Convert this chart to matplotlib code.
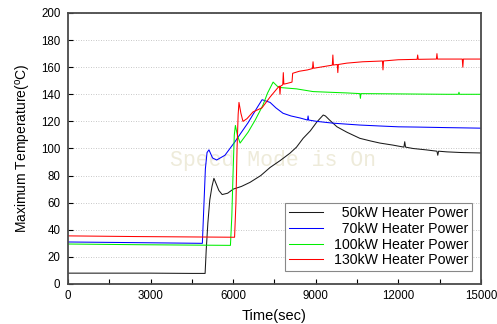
import matplotlib
matplotlib.use("Agg")
import matplotlib.pyplot as plt
from matplotlib.ticker import MultipleLocator

plt.rcParams['font.family'] = ['Liberation Sans', 'DejaVu Sans']

# ---------------- data ----------------
t50 = [0, 1500, 3000, 4500, 4980, 5020, 5080, 5150, 5230, 5300, 5380, 5480, 5600, 5800,
       6000, 6300, 6610, 7000, 7340, 7700, 8060, 8300, 8540, 8800, 9040, 9270, 9350, 9500,
       9770, 10130, 10600, 11000, 11330, 11800, 12200, 12230, 12260, 12530, 13000, 13400,
       13430, 13460, 13765, 14300, 15000]
T50 = [8, 8, 8, 7.8, 7.8, 25, 45, 62, 72, 78, 74, 69, 66, 67,
       70, 72, 75, 80, 86, 91, 96.5, 101, 107.5, 113, 119.6, 124.7, 124, 121,
       116, 112, 107.5, 105.5, 104, 102.5, 101, 105, 101, 100, 99, 98,
       95, 98, 97.5, 97, 96.7]

t70 = [0, 2500, 4880, 4930, 4990, 5050, 5120, 5250, 5400, 5700, 6065, 6300, 6540, 6865,
       7050, 7340, 7550, 7810, 8100, 8430, 8700, 8720, 8740, 9040, 9620, 10100, 10600,
       11330, 12000, 12700, 13765, 14400, 15000]
T70 = [31, 30.5, 30, 55, 85, 97, 99, 93, 91.5, 95, 105, 112, 119, 130,
       136, 134, 130, 126, 124, 122.5, 121, 124, 121, 120, 118.7, 118, 117.3,
       116.6, 116, 115.8, 115.4, 115.2, 115]

t100 = [0, 2500, 5900, 5950, 6000, 6040, 6080, 6150, 6250, 6540, 6800, 7080, 7250, 7450,
        7600, 7700, 8000, 8300, 8900, 9500, 10130, 10600, 10620, 10640, 11330, 12500,
        13765, 14180, 14200, 14220, 15000]
T100 = [29.5, 29, 28.5, 50, 85, 110, 117, 110, 104, 112, 121, 132, 141, 149,
        146, 145, 144.5, 144, 142, 141.5, 141, 140.5, 137, 140.5, 140.4, 140.2,
        140, 140, 141.5, 140, 140]

t130 = [0, 2500, 6050, 6100, 6140, 6180, 6210, 6280, 6356, 6500, 6720, 7046, 7340, 7627,
        7680, 7700, 7720, 7800, 7820, 7840, 7950, 8136, 8160, 8400, 8700, 8880, 8900, 8920,
        9300, 9600, 9620, 9640, 9780, 9800, 9820, 10130, 10700, 11330, 11420, 11440, 11460,
        12000, 12680, 12700, 12720, 13380, 13400, 13420, 13765, 14320, 14340, 14360, 15000]
T130 = [35.5, 35, 34.5, 60, 100, 125, 134, 126, 120, 122, 127, 130, 138, 145,
        146, 140, 146, 147, 156, 147.5, 148, 149, 155.5, 157, 158, 159, 164, 159.2,
        160.5, 161.5, 169, 161.6, 162, 156, 162, 163, 164, 164.5, 164.6, 158, 164.6,
        165.5, 165.8, 169, 165.8, 166, 170, 166, 166, 166, 160, 166, 166]

labels = ['  50kW Heater Power', '  70kW Heater Power',
          '100kW Heater Power', '130kW Heater Power']
colors = ['#1a1a1a', '#0000ff', '#00ee00', '#ff0000']

# ---------------- figure ----------------
fig = plt.figure(figsize=(4.97, 3.24), dpi=100)
ax = fig.add_axes([0.1368, 0.1235, 0.831, 0.8364])

ax.text(7445, 91.5, 'Speed Mode is On', family='Liberation Mono', fontsize=15.5,
        color='#eeebda', ha='center', va='center', zorder=0.5)

for t, T, lab, col in zip([t50, t70, t100, t130], [T50, T70, T100, T130], labels, colors):
    ax.plot(t, T, color=col, lw=0.75, label=lab, zorder=2)

ax.set_xlim(0, 15000)
ax.set_ylim(0, 200)
ax.xaxis.set_major_locator(MultipleLocator(3000))
ax.xaxis.set_minor_locator(MultipleLocator(1500))
ax.yaxis.set_major_locator(MultipleLocator(20))
ax.tick_params(which='both', direction='in', length=3.5, width=0.8, labelsize=8.3)
ax.tick_params(axis='y', pad=5.5)
ax.tick_params(axis='x', pad=4.5)
ax.grid(axis='y', color='#b5b5b5', lw=0.6, linestyle=(0, (1, 2)))
ax.set_axisbelow(True)

for s in ax.spines.values():
    s.set_color('#4a4a4a')
    s.set_linewidth(1.3)

ax.set_xlabel('Time(sec)', fontsize=10.5, labelpad=5)
ax.set_ylabel(r'Maximum Temperature($^\mathregular{o}$C)', fontsize=10, labelpad=6)

leg = ax.legend(loc='lower right', bbox_to_anchor=(0.978, 0.048), fontsize=10.2,
                fancybox=False, edgecolor='#888888', framealpha=1,
                handlelength=2.4, handletextpad=0.8, labelspacing=0.12,
                borderpad=0.25, borderaxespad=0)
leg.get_frame().set_linewidth(0.8)

fig.savefig('out.png', dpi=100)
